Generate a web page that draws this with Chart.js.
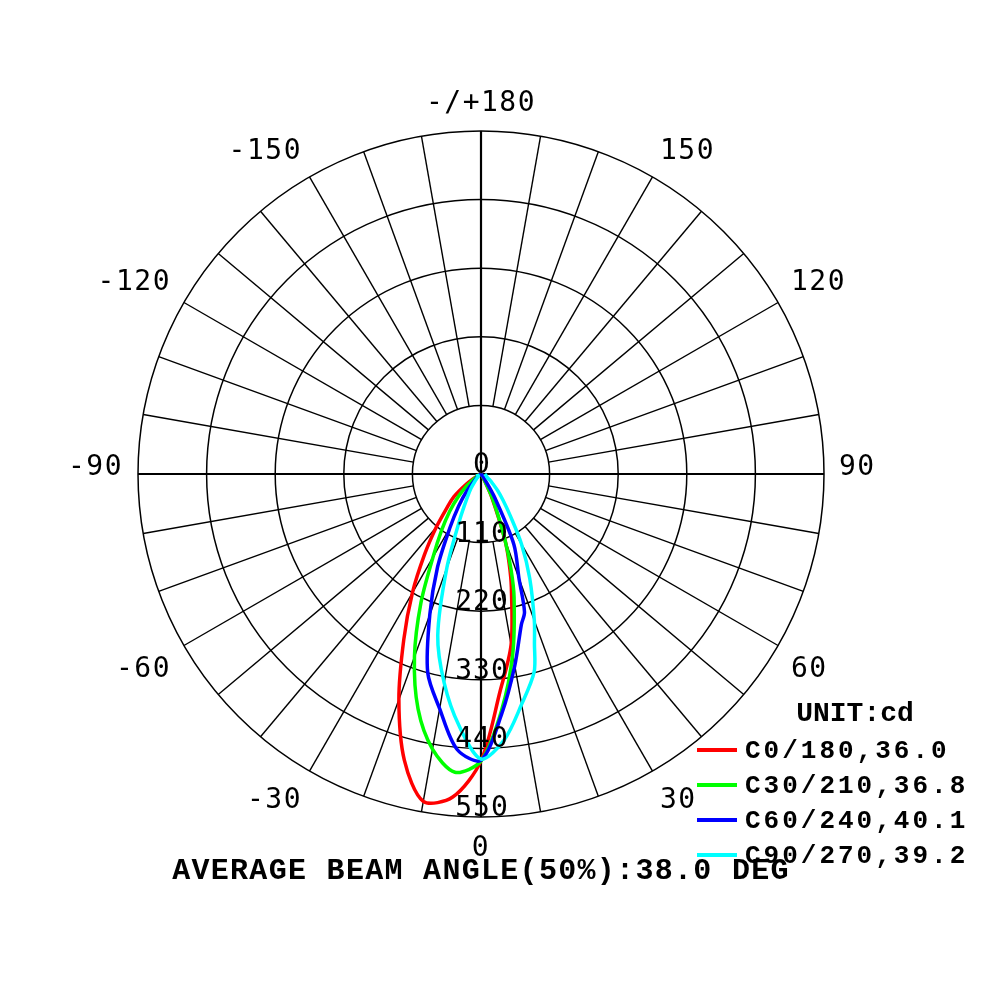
<!DOCTYPE html>
<html>
<head>
<meta charset="utf-8">
<title>Polar intensity</title>
<script src="https://cdn.jsdelivr.net/npm/chart.js@4.4.1/dist/chart.umd.min.js"></script>
<style>
  html, body { margin: 0; padding: 0; background: #fff; }
  #wrap { width: 1000px; height: 1000px; position: relative; }
</style>
</head>
<body>
<div id="wrap"><canvas id="polarChart"></canvas></div>
<script>
// gamma angles (deg), negative = left half of the plane
const gammaAngles = [-90, -75, -60, -55, -50, -45, -40, -35, -30, -25, -20, -15, -10, -5, 0,
                     5, 10, 15, 17.5, 20, 25, 30, 35, 40, 45, 50, 55, 60, 75, 90];

// intensities in cd
const c0Values  = [0, 2, 10, 30, 57, 78, 112, 158, 220, 293, 385, 475, 533, 520, 460,
                   350, 278, 188, 150, 112, 40, 8, 3, 1, 0, 0, 0, 0, 0, 0];
const c30Values = [0, 2, 6, 14, 30, 52, 78, 110, 154, 228, 312, 390, 448, 480, 460,
                   380, 293, 205, 160, 112, 45, 8, 3, 1, 0, 0, 0, 0, 0, 0];
const c60Values = [0, 1, 3, 5, 8, 14, 35, 62, 100, 165, 240, 330, 382, 443, 459,
                   385, 312, 250, 232, 178, 125, 45, 10, 4, 2, 1, 0, 0, 0, 0];
const c90Values = [6, 6, 5, 5, 6, 8, 15, 28, 45, 80, 160, 268, 340, 405, 457,
                   428, 375, 329, 285, 250, 185, 130, 82, 55, 38, 25, 18, 12, 8, 6];

const seriesLabels = ['C0/180,36.0', 'C30/210,36.8', 'C60/240,40.1', 'C90/270,39.2'];
const seriesColors = ['#ff0000', '#00ff00', '#0000ff', '#00ffff'];

const ringValues = [110, 220, 330, 440, 550];
const ringLabels = ['0', '110', '220', '330', '440', '550'];
const angleTicks = [180, 150, 120, 90, 60, 30, 0, -30, -60, -90, -120, -150];
const angleTickLabels = ['-/+180', '150', '120', '90', '60', '30', '0', '-30', '-60', '-90', '-120', '-150'];
const spokeStep = 10;

const unitText = 'UNIT:cd';
const beamText = 'AVERAGE BEAM ANGLE(50%):38.0 DEG';

function toXY(values) {
    return values.map((v, i) => {
        const a = gammaAngles[i] * Math.PI / 180;
        return { x: v * Math.sin(a), y: v * Math.cos(a) };
    });
}

const allValues = [c0Values, c30Values, c60Values, c90Values];

const polarGrid = {
    id: 'polarGrid',
    beforeDatasetsDraw(chart) {
        const ctx = chart.ctx;
        const x = chart.scales.x, y = chart.scales.y;
        const cx = x.getPixelForValue(0), cy = y.getPixelForValue(0);
        const px = v => x.getPixelForValue(v) - cx;
        ctx.save();
        ctx.strokeStyle = '#000';
        ctx.lineWidth = 1.5;
        ringValues.forEach(v => {
            ctx.beginPath();
            ctx.arc(cx, cy, px(v), 0, 2 * Math.PI);
            ctx.stroke();
        });
        const rOut = px(ringValues[ringValues.length - 1]);
        for (let a = -180; a < 180; a += spokeStep) {
            const rad = a * Math.PI / 180;
            const axis = a % 90 === 0;
            const r0 = axis ? 0 : px(ringValues[0]);
            ctx.lineWidth = axis ? 2.2 : 1.4;
            ctx.beginPath();
            ctx.moveTo(cx + r0 * Math.sin(rad), cy + r0 * Math.cos(rad));
            ctx.lineTo(cx + rOut * Math.sin(rad), cy + rOut * Math.cos(rad));
            ctx.stroke();
        }
        ctx.restore();
    },
    afterDatasetsDraw(chart) {
        const ctx = chart.ctx;
        const x = chart.scales.x, y = chart.scales.y;
        const cx = x.getPixelForValue(0), cy = y.getPixelForValue(0);
        ctx.save();
        ctx.fillStyle = '#000';

        // ring values along the 0 axis
        ctx.font = '28px "DejaVu Sans Mono"';
        ctx.letterSpacing = '1px';
        ctx.textAlign = 'center';
        ctx.textBaseline = 'alphabetic';
        ringLabels.forEach((t, i) => {
            const v = i === 0 ? 0 : ringValues[i - 1];
            ctx.fillText(t, cx + 1, y.getPixelForValue(v) - 1);
        });

        // angle labels round the outside
        ctx.font = '28px "DejaVu Sans Mono"';
        ctx.letterSpacing = '1.5px';
        ctx.textBaseline = 'middle';
        const r0 = x.getPixelForValue(574) - cx;
        angleTicks.forEach((a, i) => {
            const t = angleTickLabels[i];
            const rad = a * Math.PI / 180;
            const s = Math.sin(rad), c = Math.cos(rad);
            const halfW = ctx.measureText(t).width / 2;
            const ox = Math.abs(s) < 1e-6 ? 0 : Math.sign(s) * halfW;
            const oy = Math.abs(c) < 1e-6 ? -6 : (c > 0 ? 17 : -12);
            ctx.fillText(t, cx + r0 * s + ox, cy + r0 * c + oy);
        });

        // legend
        ctx.letterSpacing = '0px';
        ctx.font = 'bold 28px "Liberation Mono"';
        ctx.textAlign = 'center';
        ctx.fillText(unitText, 855, 714);
        ctx.font = 'bold 26px "Liberation Mono"';
        ctx.letterSpacing = '3px';
        ctx.textAlign = 'left';
        chart.data.datasets.forEach((ds, i) => {
            const ly = 750 + i * 35;
            ctx.strokeStyle = ds.borderColor;
            ctx.lineWidth = 4;
            ctx.beginPath();
            ctx.moveTo(697, ly);
            ctx.lineTo(737, ly);
            ctx.stroke();
            ctx.fillText(ds.label, 745, ly + 1);
        });

        // beam angle note
        ctx.font = 'bold 30px "Liberation Mono"';
        ctx.letterSpacing = '1.3px';
        ctx.textAlign = 'center';
        ctx.fillText(beamText, cx, 871);
        ctx.restore();
    }
};

// 550 cd = 343 px, centre at (481, 474)
const pxPerCd = 343 / 550;

new Chart(document.getElementById('polarChart'), {
    type: 'scatter',
    data: {
        datasets: allValues.map((vals, i) => ({
            label: seriesLabels[i],
            data: toXY(vals),
            showLine: true,
            borderColor: seriesColors[i],
            backgroundColor: seriesColors[i],
            borderWidth: 3.5,
            pointRadius: 0,
            tension: 0.3,
            order: allValues.length - 1 - i
        }))
    },
    options: {
        responsive: true,
        maintainAspectRatio: false,
        animation: false,
        layout: { padding: 0 },
        plugins: {
            legend: { display: false },
            tooltip: { enabled: false }
        },
        scales: {
            x: { type: 'linear', display: false, min: -481 / pxPerCd, max: 519 / pxPerCd },
            y: { type: 'linear', display: false, reverse: true, min: -474 / pxPerCd, max: 526 / pxPerCd }
        }
    },
    plugins: [polarGrid]
});
</script>
</body>
</html>
